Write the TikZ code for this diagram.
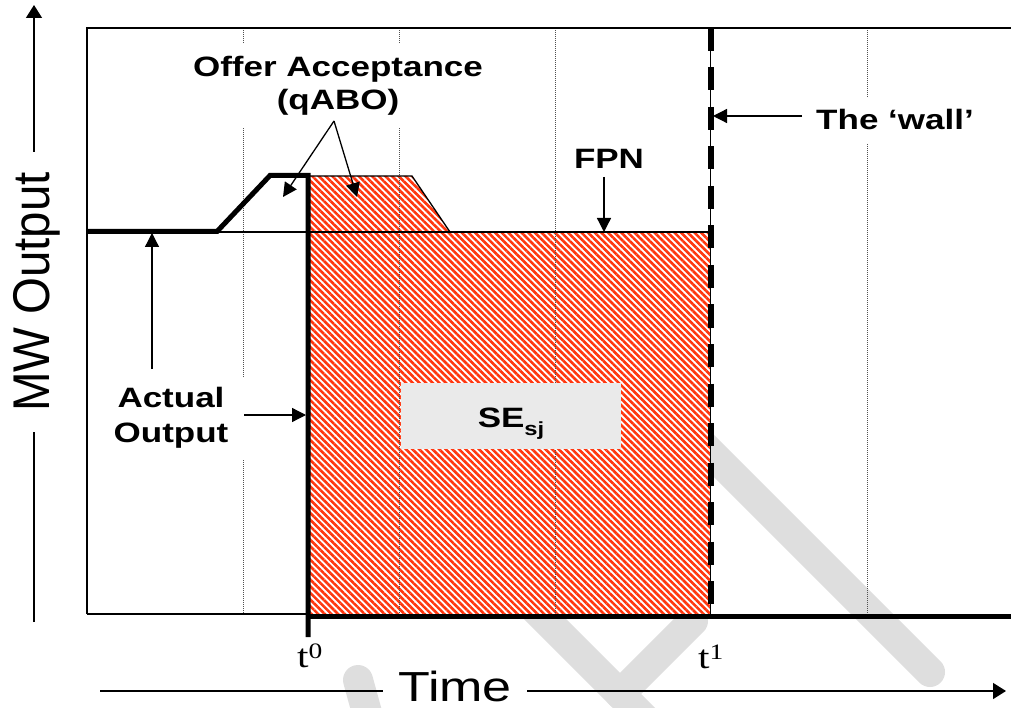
\documentclass[tikz,border=0pt]{standalone}
\usepackage{fontspec}
\setmainfont{Liberation Serif}
\newfontfamily\arialfont{Liberation Sans}
\usetikzlibrary{arrows.meta,patterns.meta}
\definecolor{hatchred}{RGB}{255,55,15}
\definecolor{wmgrey}{RGB}{222,222,222}
\definecolor{seboxc}{RGB}{234,234,234}
\definecolor{gridc}{RGB}{80,80,80}
\newcommand{\sx}[1]{\scalebox{1.25}[1]{#1}}
\begin{document}
\begin{tikzpicture}[x=1pt,y=-1pt,
  lbl/.style={font=\arialfont\bfseries\fontsize{28}{33}\selectfont, fill=white, inner sep=8pt, align=center},
  arr/.style={-{Triangle[length=14pt,width=14pt]}, line width=1.3pt},
  axarr/.style={-{Triangle[length=13pt,width=16pt]}, line width=1.5pt},
  thinline/.style={line width=1.3pt},
  thickline/.style={line width=5pt},
  gridline/.style={gridc, line width=1pt, dash pattern=on 1pt off 1pt},
  wm/.style={wmgrey, line width=30pt, line cap=round},
  hatch/.style={pattern={Lines[angle=-45,distance=4.7pt,line width=2.6pt]}, pattern color=hatchred}]
\useasboundingbox (0,0) rectangle (1011,708);
\clip (0,0) rectangle (1011,708);

% watermark
\draw[wm] (600,342) -- (930,672);
\draw[wm] (470,544) -- (720,794);
\draw[wm] (620,694) -- (693,621);
\draw[wm] (358,680) -- (380,760);

% hatched area
\fill[white] (308,176) -- (412,176) -- (450,232) -- (710,232) -- (710,616) -- (308,616) -- cycle;
\fill[hatch] (308,176) -- (412,176) -- (450,232) -- (710,232) -- (710,616) -- (308,616) -- cycle;

% dotted grid
\foreach \gx in {243,399,555,867}{
  \draw[gridline] (\gx,28) -- (\gx,614);
}

% frame and thin lines
\draw[thinline] (87,614) -- (87,28) -- (1011,28);
\draw[thinline] (87,614) -- (308,614);
\draw[thinline] (87,232) -- (710,232);
\draw[thinline] (308,176) -- (412,176) -- (450,232);

% the wall
\draw[line width=1.5pt] (710.5,28) -- (710.5,614);
\draw[line width=6pt, dash pattern=on 23pt off 16.5pt] (710.5,28) -- (710.5,614);

% actual output and axis
\draw[thickline, line join=miter] (87,231.5) -- (217,231.5) -- (270,175.5) -- (308,175.5) -- (308,637);
\draw[thickline] (305.5,616) -- (1011,616);

% axes arrows
\coordinate (ybot) at (34,622);
\coordinate (ytop) at (34,5);
\coordinate (xleft) at (100,691);
\coordinate (xright) at (1006,691);
\draw[axarr] (ybot) -- (ytop);
\draw[axarr] (xleft) -- (xright);

% labels
\node[fill=white, rotate=90, inner xsep=20pt, inner ysep=2pt, font=\arialfont\fontsize{42}{42}\selectfont] (mw) at (37,292) {\scalebox{1.13}[1.23]{MW Output}};
\node[fill=white, anchor=base, inner xsep=15pt, inner ysep=5pt, font=\arialfont\fontsize{42}{42}\selectfont] (time) at (455,701) {\scalebox{1.24}[1]{Time}};
\node[anchor=base west, inner sep=0pt, font=\fontsize{33}{33}\selectfont] (t0) at (297,667) {\sx{t\raisebox{9pt}{\fontsize{22}{22}\selectfont 0}}};
\node[anchor=base west, inner sep=0pt, font=\fontsize{33}{33}\selectfont] (t1) at (698,668) {\sx{t\raisebox{9pt}{\fontsize{22}{22}\selectfont 1}}};

\node[lbl, inner ysep=12pt] (offer) at (338,86) {\sx{Offer Acceptance}\\\sx{(qABO)}};
\node[lbl, anchor=base, inner xsep=10pt, inner ysep=13pt] (wall) at (895,130) {\sx{The ‘wall’}};
\node[lbl, anchor=base, inner sep=4pt] (fpn) at (609,169) {\sx{FPN}};
\node[lbl, inner xsep=20pt, inner ysep=10pt, font=\arialfont\bfseries\fontsize{28}{35}\selectfont] (actual) at (171,418) {\sx{Actual}\\\sx{Output}};
\node[fill=seboxc, minimum width=220pt, minimum height=66pt, inner sep=0pt, font=\arialfont\bfseries\fontsize{28}{33}\selectfont] (se) at (511,416) {\raisebox{-11pt}[0pt][0pt]{\sx{SE\raisebox{-8pt}{\fontsize{19}{19}\selectfont sj}}}};

% label arrows
\coordinate (oa) at (334,121);
\coordinate (oa1) at (283,197);
\coordinate (oa2) at (357,197);
\coordinate (fpnS) at (604,177);
\coordinate (fpnT) at (604,232);
\coordinate (wallS) at (802,116);
\coordinate (wallT) at (713,116);
\coordinate (actS1) at (152,369);
\coordinate (actT1) at (152,233);
\coordinate (actS2) at (244,415);
\coordinate (actT2) at (306,415);
\draw[arr] (oa) -- (oa1);
\draw[arr] (oa) -- (oa2);
\draw[arr] (fpnS) -- (fpnT);
\draw[arr] (wallS) -- (wallT);
\draw[arr] (actS1) -- (actT1);
\draw[arr] (actS2) -- (actT2);
\end{tikzpicture}
\end{document}
